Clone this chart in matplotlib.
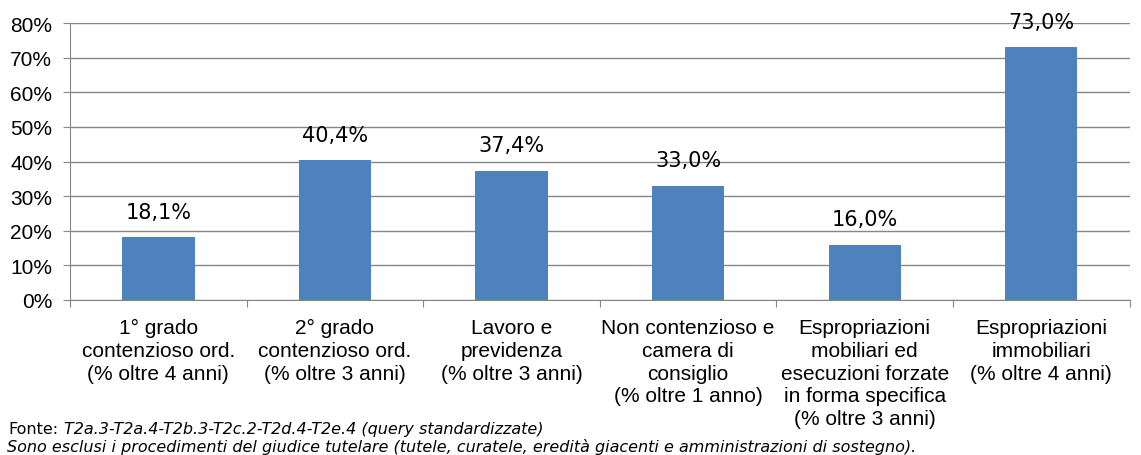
import matplotlib.pyplot as plt
import numpy as np

categorie = ["1° grado\ncontenzioso ord.\n(% oltre 4 anni)",
             "2° grado\ncontenzioso ord.\n(% oltre 3 anni)",
             "Lavoro e\nprevidenza\n(% oltre 3 anni)",
             "Non contenzioso e\ncamera di\nconsiglio\n(% oltre 1 anno)",
             "Espropriazioni\nmobiliari ed\nesecuzioni forzate\nin forma specifica\n(% oltre 3 anni)",
             "Espropriazioni\nimmobiliari\n(% oltre 4 anni)"]
valori = [18.1, 40.4, 37.4, 33.0, 16.0, 73.0]
etichette_y = ["0%", "10%", "20%", "30%", "40%", "50%", "60%", "70%", "80%"]

fig = plt.figure(figsize=(11.41, 4.56), dpi=100)
ax = fig.add_axes([0.0614, 0.340, 0.9286, 0.607])

x = np.arange(len(valori))
ax.bar(x, valori, width=0.41, color="#4F81BD", zorder=3)

# Etichette dei valori sopra le barre
for xi, v in zip(x, valori):
    ax.text(xi, v + 4.5, f"{v:.1f}%".replace(".", ","),
            ha="center", va="bottom", fontsize=15, fontname="DejaVu Sans")

ax.set_xlim(-0.5, len(valori) - 0.5)
ax.set_ylim(0, 80)
ax.set_yticks(np.arange(0, 81, 10))
ax.set_yticklabels(etichette_y, fontsize=15, fontname="Liberation Sans")
ax.grid(axis="y", color="#868686", linewidth=1, zorder=0)

ax.set_xticks(np.arange(-0.5, len(valori), 1))
ax.set_xticklabels([])
ax.set_xticks(x, minor=True)
ax.set_xticklabels(categorie, minor=True, fontsize=15, fontname="Liberation Sans",
                   va="top", ha="center", linespacing=1.25)
ax.tick_params(axis="x", which="minor", length=0, pad=13)
ax.tick_params(axis="x", which="major", length=5, color="#868686")
ax.tick_params(axis="y", length=5, color="#868686", pad=8)

for lato in ["top", "right"]:
    ax.spines[lato].set_visible(False)
ax.spines["left"].set_color("#868686")
ax.spines["bottom"].set_color("#868686")

# Note in basso
fig.text(0.007, 1 - 430 / 456, "Fonte:", fontsize=11.5, fontname="DejaVu Sans", va="center")
fig.text(0.056, 1 - 430 / 456, "T2a.3-T2a.4-T2b.3-T2c.2-T2d.4-T2e.4 (query standardizzate)",
         fontsize=11.5, fontname="DejaVu Sans", style="italic", va="center")
fig.text(0.006, 1 - 447 / 456,
         "Sono esclusi i procedimenti del giudice tutelare (tutele, curatele, eredità giacenti e amministrazioni di sostegno).",
         fontsize=11.5, fontname="DejaVu Sans", style="italic", va="center")

fig.savefig("out.png", dpi=100)
